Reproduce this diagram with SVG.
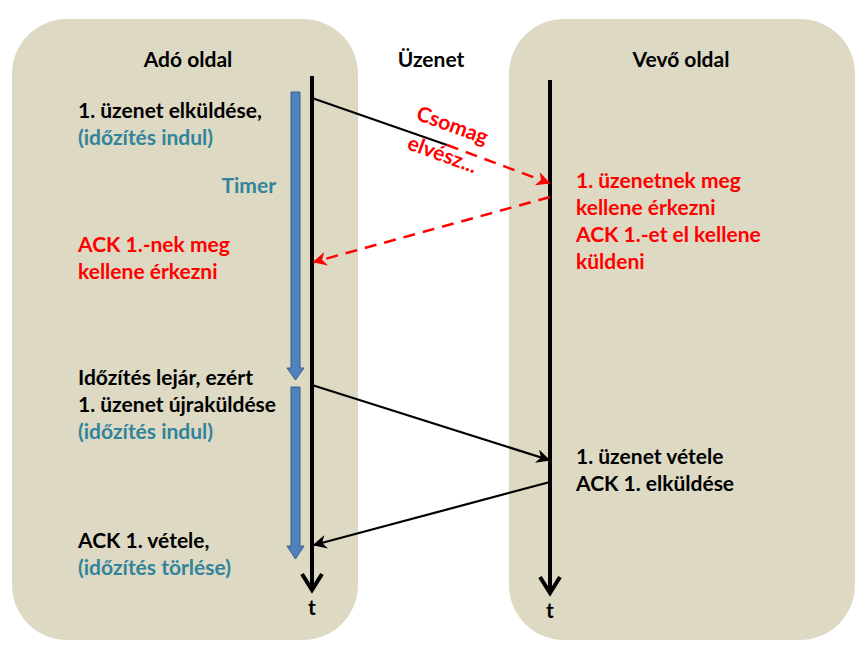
<svg xmlns="http://www.w3.org/2000/svg" width="866" height="659" viewBox="0 0 866 659">
<style>
.panel{fill:#DDD9C3}
text{font-family:Lato,"Open Sans","Liberation Sans",sans-serif;font-weight:700;font-size:21px}
.blk{fill:#000}
.teal{fill:#31849B}
.red{fill:#FF0000}
.title{text-anchor:middle}
.tl{stroke:#000;stroke-width:4;fill:none}
.msg{stroke:#000;stroke-width:2.2;fill:none}
.lost{stroke:#FF0000;stroke-width:2.5;fill:none;stroke-dasharray:12 8}
.timer{fill:#4F81BD;stroke:#385D8A;stroke-width:1}
</style>
<defs>
<marker id="ahb" viewBox="0 0 10 10" refX="9" refY="5" markerWidth="14" markerHeight="14" markerUnits="userSpaceOnUse" orient="auto"><path d="M0,0 L10,5 L0,10 L3,5 Z" fill="#000"/></marker>
<marker id="ahr" viewBox="0 0 10 10" refX="9" refY="5" markerWidth="14" markerHeight="14" markerUnits="userSpaceOnUse" orient="auto"><path d="M0,0 L10,5 L0,10 L3,5 Z" fill="#FF0000"/></marker>
</defs>
<g id="sender">
<rect class="panel" x="12" y="19" width="346" height="621" rx="55" ry="55"/>
<text class="blk title" x="188" y="67">Adó oldal</text>
</g>
<g id="channel">
<text class="blk title" x="431" y="67">Üzenet</text>
</g>
<g id="receiver">
<rect class="panel" x="509" y="19" width="346" height="621" rx="55" ry="55"/>
<text class="blk title" x="681" y="67">Vevő oldal</text>
</g>
<g id="timelines">
<line class="tl" x1="312" y1="76" x2="312" y2="590"/>
<path class="tl" d="M302,574 L312,590 L322,574"/>
<text class="blk title" x="312" y="615" font-size="19">t</text>
<line class="tl" x1="550" y1="80" x2="550" y2="593"/>
<path class="tl" d="M540,577 L550,593 L560,577"/>
<text class="blk title" x="550" y="618" font-size="19">t</text>
</g>
<g id="timers">
<path class="timer" d="M291,92 H300 V368 H304 L295.5,380 L287,368 H291 Z"/>
<path class="timer" d="M291,387 H300 V546 H304 L295.5,559 L287,546 H291 Z"/>
<text class="teal" x="276" y="193" text-anchor="end">Timer</text>
</g>
<g id="connectors">
<line class="msg" x1="312" y1="98" x2="447" y2="145"/>
<line class="lost" x1="447" y1="145" x2="549" y2="183" marker-end="url(#ahr)"/>
<line class="lost" x1="550" y1="197" x2="314" y2="262" marker-end="url(#ahr)"/>
<line class="msg" x1="312" y1="385" x2="549" y2="460" marker-end="url(#ahb)"/>
<line class="msg" x1="550" y1="482" x2="314" y2="545" marker-end="url(#ahb)"/>
</g>
<g id="lost-label">
<text class="red" x="450" y="132" text-anchor="middle" transform="rotate(20 450 132)" font-size="17">Csomag</text>
<text class="red" x="440" y="161" text-anchor="middle" transform="rotate(20 440 161)" font-size="17">elvész...</text>
</g>
<g id="sender-notes">
<text x="78" y="118"><tspan class="blk">1. üzenet elküldése,</tspan><tspan class="teal" x="78" y="145">(időzítés indul)</tspan></text>
<text class="red" x="78" y="252">ACK 1.-nek meg<tspan x="78" y="279">kellene érkezni</tspan></text>
<text class="blk" x="78" y="385">Időzítés lejár, ezért<tspan x="78" y="412">1. üzenet újraküldése</tspan></text>
<text class="teal" x="78" y="439">(időzítés indul)</text>
<text class="blk" x="78" y="548">ACK 1. vétele,</text>
<text class="teal" x="78" y="575">(időzítés törlése)</text>
</g>
<g id="receiver-notes">
<text class="red" x="576" y="188">1. üzenetnek meg<tspan x="576" y="215">kellene érkezni</tspan><tspan x="576" y="242">ACK 1.-et el kellene</tspan><tspan x="576" y="269">küldeni</tspan></text>
<text class="blk" x="576" y="464">1. üzenet vétele<tspan x="576" y="491">ACK 1. elküldése</tspan></text>
</g>
</svg>
